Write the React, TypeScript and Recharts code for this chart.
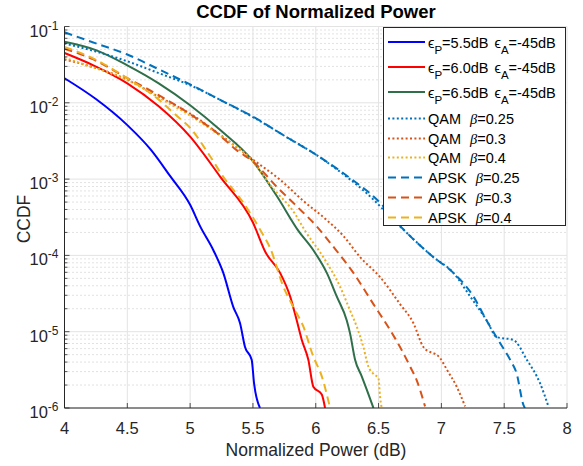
import React from 'react';
import { LineChart, Line, XAxis, YAxis, CartesianGrid, Legend, Customized } from 'recharts';

const FONT = '"Liberation Sans", Arial, Helvetica, sans-serif';
const AXIS_COLOR = '#262626';

// ---- axis ticks ----
const xTicks = [4, 4.5, 5, 5.5, 6, 6.5, 7, 7.5, 8];
const xTickLabels = ['4', '4.5', '5', '5.5', '6', '6.5', '7', '7.5', '8'];
const yDecades = [1e-6, 1e-5, 1e-4, 1e-3, 1e-2, 1e-1];
const yDecadeExponents = ['-6', '-5', '-4', '-3', '-2', '-1'];
const yTicks = [
  1e-6, 2e-6, 3e-6, 4e-6, 5e-6, 6e-6, 7e-6, 8e-6, 9e-6,
  1e-5, 2e-5, 3e-5, 4e-5, 5e-5, 6e-5, 7e-5, 8e-5, 9e-5,
  1e-4, 2e-4, 3e-4, 4e-4, 5e-4, 6e-4, 7e-4, 8e-4, 9e-4,
  1e-3, 2e-3, 3e-3, 4e-3, 5e-3, 6e-3, 7e-3, 8e-3, 9e-3,
  1e-2, 2e-2, 3e-2, 4e-2, 5e-2, 6e-2, 7e-2, 8e-2, 9e-2,
  1e-1,
];

// ---- series data ----
const xEp55 = [4.0, 4.25, 4.5, 4.69, 4.84, 5.0, 5.08, 5.185, 5.264, 5.344, 5.397, 5.437, 5.49, 5.509, 5.556];
const yEp55 = [2.1e-2, 1.12e-2, 5.1e-3, 2.4e-3, 1.1e-3, 4.6e-4, 2.4e-4, 1.17e-4, 5.9e-5, 2.1e-5, 1.3e-5, 6.3e-6, 4.3e-6, 2.1e-6, 1.0e-6];

const xEp60 = [4.0, 4.23, 4.5, 4.75, 5.0, 5.24, 5.5, 5.6, 5.716, 5.796, 5.849, 5.889, 5.941, 5.981, 6.048, 6.074];
const yEp60 = [4.5e-2, 3.1e-2, 1.8e-2, 9.0e-3, 3.6e-3, 1.07e-3, 2.7e-4, 1.1e-4, 5.9e-5, 2.9e-5, 1.4e-5, 7.8e-6, 4.3e-6, 1.9e-6, 1.5e-6, 1.0e-6];

const xEp65 = [4.0, 4.25, 4.5, 4.75, 5.0, 5.24, 5.49, 5.69, 5.862, 5.981, 6.088, 6.167, 6.247, 6.273, 6.313, 6.366, 6.446, 6.459];
const yEp65 = [6.3e-2, 4.9e-2, 3.1e-2, 1.8e-2, 9.3e-3, 4.4e-3, 1.8e-3, 6.0e-4, 2.1e-4, 1.17e-4, 5.9e-5, 2.9e-5, 1.4e-5, 9.5e-6, 4.3e-6, 2.6e-6, 1.15e-6, 1.0e-6];

const xQam025 = [4.0, 4.25, 4.5, 4.75, 5.0, 5.25, 5.5, 5.75, 6.0, 6.14, 6.406, 6.671, 6.936, 7.096, 7.229, 7.361, 7.441, 7.573, 7.68, 7.786, 7.852];
const yQam025 = [6.0e-2, 4.7e-2, 3.5e-2, 2.45e-2, 1.7e-2, 1.07e-2, 6.5e-3, 3.7e-3, 2.1e-3, 1.45e-3, 6.5e-4, 2.4e-4, 9.5e-5, 5.9e-5, 2.9e-5, 1.4e-5, 8.5e-6, 7.8e-6, 4.3e-6, 2.1e-6, 1.05e-6];

const xQam03 = [4.0, 4.15, 4.5, 4.75, 5.0, 5.25, 5.5, 5.716, 5.9, 6.088, 6.22, 6.353, 6.512, 6.671, 6.777, 6.857, 6.99, 7.043, 7.122, 7.189];
const yQam03 = [3.7e-2, 3.2e-2, 2.0e-2, 1.2e-2, 7.2e-3, 3.7e-3, 1.8e-3, 9.8e-4, 5.2e-4, 2.9e-4, 1.8e-4, 9.5e-5, 5.2e-5, 2.3e-5, 1.3e-5, 6.3e-6, 4.5e-6, 3.2e-6, 1.9e-6, 1.05e-6];

const xQam04 = [4.0, 4.15, 4.5, 4.75, 5.0, 5.25, 5.48, 5.65, 5.835, 5.915, 6.06, 6.193, 6.273, 6.326, 6.379, 6.419, 6.459, 6.499, 6.512, 6.525];
const yQam04 = [3.9e-2, 3.2e-2, 2.0e-2, 1.17e-2, 6.8e-3, 3.6e-3, 1.86e-3, 7.9e-4, 3.5e-4, 2.1e-4, 9.5e-5, 3.9e-5, 1.9e-5, 1.17e-5, 6.3e-6, 3.5e-6, 2.8e-6, 2.45e-6, 1.4e-6, 1.0e-6];

const xApsk025 = [4.0, 4.25, 4.5, 4.75, 5.0, 5.25, 5.5, 5.75, 6.0, 6.25, 6.486, 6.697, 6.936, 7.096, 7.255, 7.36, 7.467, 7.547, 7.6, 7.653, 7.665];
const yApsk025 = [8.4e-2, 6.0e-2, 4.3e-2, 2.75e-2, 1.74e-2, 1.07e-2, 6.6e-3, 3.7e-3, 2.1e-3, 1.1e-3, 5.4e-4, 2.2e-4, 9.5e-5, 5.9e-5, 2.9e-5, 1.4e-5, 7.1e-6, 4.3e-6, 2.8e-6, 1.1e-6, 1.0e-6];

const xApsk03 = [4.0, 4.23, 4.5, 4.75, 5.0, 5.2, 5.37, 5.5, 5.69, 5.849, 6.008, 6.14, 6.3, 6.459, 6.592, 6.671, 6.751, 6.804, 6.87];
const yApsk03 = [5.1e-2, 3.7e-2, 2.1e-2, 1.26e-2, 7.1e-3, 4.2e-3, 2.4e-3, 1.7e-3, 7.9e-4, 4.4e-4, 2.4e-4, 1.3e-4, 5.9e-5, 2.3e-5, 1.05e-5, 6.3e-6, 3.5e-6, 2.3e-6, 1.05e-6];

const xApsk04 = [4.0, 4.23, 4.5, 4.75, 4.9, 5.0, 5.15, 5.264, 5.42, 5.57, 5.636, 5.742, 5.822, 5.901, 5.981, 6.048, 6.114];
const yApsk04 = [5.4e-2, 3.8e-2, 2.1e-2, 1.1e-2, 6.6e-3, 4.7e-3, 2.1e-3, 1.07e-3, 5.0e-4, 2.0e-4, 1.26e-4, 3.9e-5, 2.1e-5, 1.17e-5, 4.7e-6, 2.6e-6, 1.0e-6];

const zip = (xs: number[], ys: number[]) => xs.map((x, i) => ({ x, y: ys[i] }));

const DOT = '2 2.4';
const DASH = '8 5';

const SUBSIZE = 11.5;
const SUBDY = 6;

const EpsLabel = ({ p }: { p: string }) => (
  <>
    <tspan>ϵ</tspan>
    <tspan dy={SUBDY} fontSize={SUBSIZE}>P</tspan>
    <tspan dy={-SUBDY}>{`=${p}dB`}</tspan>
    <tspan dx={6}>ϵ</tspan>
    <tspan dy={SUBDY} fontSize={SUBSIZE}>A</tspan>
    <tspan dy={-SUBDY}>=-45dB</tspan>
  </>
);

const BetaLabel = ({ name, b }: { name: string; b: string }) => (
  <>
    <tspan>{name}</tspan>
    <tspan dx={9} fontFamily='"Liberation Serif", "Times New Roman", serif' fontStyle="italic">β</tspan>
    <tspan>{`=${b}`}</tspan>
  </>
);

type Series = { key: string; data: { x: number; y: number }[]; color: string; dash?: string; label: React.ReactNode };

const series: Series[] = [
  { key: 'ep55', data: zip(xEp55, yEp55), color: '#0000FF', label: <EpsLabel p="5.5" /> },
  { key: 'ep60', data: zip(xEp60, yEp60), color: '#FF0000', label: <EpsLabel p="6.0" /> },
  { key: 'ep65', data: zip(xEp65, yEp65), color: '#2F6F4A', label: <EpsLabel p="6.5" /> },
  { key: 'qam025', data: zip(xQam025, yQam025), color: '#0072BD', dash: DOT, label: <BetaLabel name="QAM" b="0.25" /> },
  { key: 'qam03', data: zip(xQam03, yQam03), color: '#D95319', dash: DOT, label: <BetaLabel name="QAM" b="0.3" /> },
  { key: 'qam04', data: zip(xQam04, yQam04), color: '#EDB120', dash: DOT, label: <BetaLabel name="QAM" b="0.4" /> },
  { key: 'apsk025', data: zip(xApsk025, yApsk025), color: '#0072BD', dash: DASH, label: <BetaLabel name="APSK" b="0.25" /> },
  { key: 'apsk03', data: zip(xApsk03, yApsk03), color: '#D95319', dash: DASH, label: <BetaLabel name="APSK" b="0.3" /> },
  { key: 'apsk04', data: zip(xApsk04, yApsk04), color: '#EDB120', dash: DASH, label: <BetaLabel name="APSK" b="0.4" /> },
];

const legendRowY = [15, 40, 65, 91.6, 111.6, 130.6, 150.6, 170.6, 190.6];

const decadeIndex = (v: number) => yDecades.findIndex((d) => Math.abs(v - d) / d < 1e-6);

const YTickLeft = (props: any) => {
  const { x, y, payload } = props;
  const di = decadeIndex(payload.value);
  const major = di >= 0;
  const len = major ? 5 : 3;
  return (
    <g>
      <line x1={x} y1={y} x2={x + len} y2={y} stroke={AXIS_COLOR} strokeWidth={0.8} />
      {major && (
        <text x={x - 6} y={y + 10} textAnchor="end" fontSize={16.5} fill={AXIS_COLOR} fontFamily={FONT}>
          10<tspan dy={-7} fontSize={12}>{yDecadeExponents[di]}</tspan>
        </text>
      )}
    </g>
  );
};

const YTickRight = (props: any) => {
  const { x, y, payload } = props;
  const major = decadeIndex(payload.value) >= 0;
  const len = major ? 5 : 3;
  return <line x1={x} y1={y} x2={x - len} y2={y} stroke={AXIS_COLOR} strokeWidth={0.8} />;
};

const XTickBottom = (props: any) => {
  const { x, y, payload } = props;
  const i = xTicks.findIndex((t) => Math.abs(t - payload.value) < 1e-9);
  return (
    <g>
      <line x1={x} y1={y} x2={x} y2={y - 5} stroke={AXIS_COLOR} strokeWidth={0.8} />
      <text x={x} y={y + 26} textAnchor="middle" fontSize={16.5} fill={AXIS_COLOR} fontFamily={FONT}>
        {xTickLabels[i]}
      </text>
    </g>
  );
};

const XTickTop = (props: any) => {
  const { x, y } = props;
  return <line x1={x} y1={y} x2={x} y2={y + 5} stroke={AXIS_COLOR} strokeWidth={0.8} />;
};

const LegendBox = () => (
  <svg width={184} height={200} style={{ display: 'block', fontFamily: FONT }}>
    <rect x={0.5} y={0.5} width={182} height={198} fill="#FFFFFF" stroke={AXIS_COLOR} strokeWidth={1} />
    {series.map((s, i) => {
      const cy = legendRowY[i];
      return (
        <g key={s.key}>
          <line x1={5} y1={cy} x2={42} y2={cy} stroke={s.color} strokeWidth={2} strokeDasharray={s.dash} />
          <text x={45} y={cy + 5.5} fontSize={14.5} fill="#000000">{s.label}</text>
        </g>
      );
    })}
  </svg>
);

const Labels = () => (
  <g fontFamily={FONT}>
    <text x={316} y={18} textAnchor="middle" fontWeight="bold" fontSize={18.5} fill="#000000">CCDF of Normalized Power</text>
    <text x={316} y={456} textAnchor="middle" fontSize={17.5} fill={AXIS_COLOR}>Normalized Power (dB)</text>
    <text transform="translate(30,219) rotate(-90)" textAnchor="middle" fontSize={17.5} fill={AXIS_COLOR}>CCDF</text>
  </g>
);

export default function App() {
  return (
    <div style={{ position: 'relative', width: 583, height: 466, background: '#FFFFFF' }}>
      <style>{'body{margin:0;background:#fff;}'}</style>
      <LineChart width={583} height={466} margin={{ top: 26.5, right: 16, bottom: 0, left: 0 }}>
        <CartesianGrid
          vertical={(p: any) => (
            <line key={p.key} x1={p.x1} y1={p.y1} x2={p.x2} y2={p.y2} stroke="#E3E3E3" strokeWidth={1} />
          )}
          horizontal={(p: any) => {
            const major = p.index % 9 === 0;
            return (
              <line
                key={p.key}
                x1={p.x1}
                y1={p.y1}
                x2={p.x2}
                y2={p.y2}
                stroke={major ? '#E3E3E3' : '#C4C4C4'}
                strokeWidth={1}
                strokeDasharray={major ? undefined : '1 3'}
              />
            );
          }}
        />
        <XAxis
          dataKey="x"
          type="number"
          domain={[4, 8]}
          ticks={xTicks}
          interval={0}
          height={58}
          tickSize={0}
          tickMargin={0}
          tickLine={false}
          axisLine={{ stroke: AXIS_COLOR, strokeWidth: 1 }}
          tick={XTickBottom}
          allowDataOverflow
        />
        <XAxis
          xAxisId="top"
          orientation="top"
          type="number"
          domain={[4, 8]}
          ticks={xTicks}
          interval={0}
          height={0}
          tickSize={0}
          tickMargin={0}
          tickLine={false}
          axisLine={{ stroke: AXIS_COLOR, strokeWidth: 1 }}
          tick={XTickTop}
          allowDataOverflow
        />
        <YAxis
          type="number"
          scale="log"
          domain={[1e-6, 1e-1]}
          ticks={yTicks}
          interval={0}
          width={64.5}
          tickSize={0}
          tickMargin={0}
          tickLine={false}
          axisLine={{ stroke: AXIS_COLOR, strokeWidth: 1 }}
          tick={YTickLeft}
          allowDataOverflow
        />
        <YAxis
          yAxisId="right"
          orientation="right"
          type="number"
          scale="log"
          domain={[1e-6, 1e-1]}
          ticks={yTicks}
          interval={0}
          width={0}
          tickSize={0}
          tickMargin={0}
          tickLine={false}
          axisLine={{ stroke: AXIS_COLOR, strokeWidth: 1 }}
          tick={YTickRight}
          allowDataOverflow
        />
        {series.map((s) => (
          <Line
            key={s.key}
            data={s.data}
            dataKey="y"
            type="monotoneX"
            stroke={s.color}
            strokeWidth={2}
            strokeDasharray={s.dash}
            dot={false}
            activeDot={false}
            legendType="none"
            isAnimationActive={false}
          />
        ))}
        <Legend
          layout="vertical"
          align="center"
          verticalAlign="middle"
          wrapperStyle={{ left: 383, top: 26.5, right: 'auto', bottom: 'auto', width: 184, height: 200 }}
          content={() => <LegendBox />}
        />
        <Customized component={Labels} />
      </LineChart>
    </div>
  );
}
